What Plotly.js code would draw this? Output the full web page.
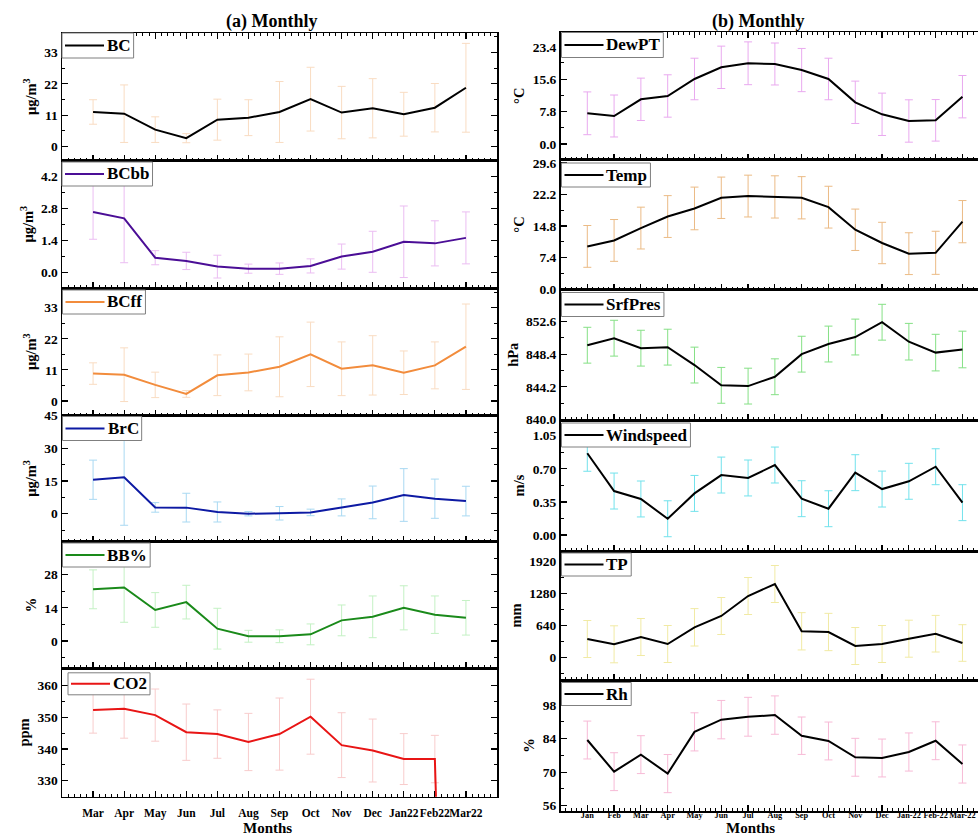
<!DOCTYPE html>
<html><head><meta charset="utf-8">
<script src="https://cdn.plot.ly/plotly-3.0.1.min.js"></script>
<style>html,body{margin:0;padding:0;background:#fff}#chart{width:978px;height:837px}</style>
</head><body><div id="chart"></div>
<script>
// ---- categories ----
const monthsA = ['Mar','Apr','May','Jun','Jul','Aug','Sep','Oct','Nov','Dec','Jan22','Feb22','Mar22'];
const monthsB = ['Jan','Feb','Mar','Apr','May','Jun','Jul','Aug','Sep','Oct','Nov','Dec','Jan-22','Feb-22','Mar-22'];

// ---- (a) series ----
const bc      = [12.1, 11.5, 5.9, 2.9, 9.4, 10.1, 12.1, 16.6, 11.9, 13.4, 11.3, 13.6, 20.6];
const bcErr   = [4.3, 10.1, 4.5, 1.6, 7.2, 6.3, 10.7, 11.2, 9.2, 10.4, 7.7, 8.5, 15.6];
const bcbb    = [2.65, 2.37, 0.64, 0.50, 0.25, 0.16, 0.16, 0.28, 0.69, 0.90, 1.34, 1.27, 1.51];
const bcbbErr = [1.2, 1.95, 0.31, 0.38, 0.5, 0.2, 0.25, 0.31, 0.55, 0.9, 1.57, 0.99, 1.14];
const bcff    = [9.7, 9.3, 5.7, 2.5, 9.1, 10.1, 12.1, 16.5, 11.4, 12.6, 10.0, 12.6, 19.2];
const bcffErr = [3.8, 9.5, 4.5, 1.2, 7.2, 6.5, 10.6, 11.4, 9.5, 10.5, 7.7, 8.3, 15.1];
const brc     = [15.6, 16.7, 2.9, 2.8, 0.8, 0.0, 0.2, 0.6, 2.9, 5.2, 8.6, 6.9, 5.8];
const brcErr  = [9.0, 22.0, 2.2, 6.6, 4.6, 1.0, 3.1, 1.5, 3.9, 7.5, 12.1, 9.0, 6.8];
const bbPct   = [21.8, 22.6, 13.1, 16.4, 5.2, 2.0, 2.0, 2.8, 8.7, 10.2, 14.0, 11.1, 9.8];
const bbErr   = [8.2, 14.7, 7.3, 7.1, 8.6, 2.5, 2.7, 4.4, 6.5, 8.8, 9.3, 7.9, 7.3];
const co2     = [352.3, 352.7, 350.7, 345.3, 344.7, 342.2, 344.7, 350.2, 341.2, 339.5, 336.8, 336.8, 0];
const co2Err  = [7.3, 9.3, 8.25, 8.9, 7.65, 9.05, 11.4, 11.85, 10.25, 9.95, 8.05, 7.5, 0];

// ---- (b) series ----
const dewpt   = [7.39, 6.74, 10.76, 11.56, 15.65, 18.46, 19.43, 19.26, 17.8, 15.65, 10.04, 7.15, 5.54, 5.7, 11.39];
const dewErr  = [5.15, 5.05, 5.1, 5.1, 5.0, 5.1, 5.15, 5.05, 5.2, 5.0, 5.1, 5.1, 5.1, 5.0, 5.1];
const temp    = [10.0, 11.4, 14.3, 17.0, 18.9, 21.4, 21.8, 21.6, 21.4, 19.2, 13.9, 10.8, 8.3, 8.5, 15.8];
const tempErr = [4.9, 4.9, 4.9, 4.9, 5.0, 4.85, 4.9, 4.95, 4.95, 4.9, 4.85, 4.85, 4.9, 5.05, 4.95];
const pres    = [849.55, 850.45, 849.17, 849.3, 847.0, 844.4, 844.3, 845.5, 848.4, 849.7, 850.6, 852.5, 850.0, 848.6, 849.0];
const presErr = [2.3, 2.3, 2.3, 2.3, 2.3, 2.3, 2.3, 2.3, 2.3, 2.3, 2.3, 2.3, 2.35, 2.35, 2.35];
const wind    = [0.864, 0.465, 0.381, 0.172, 0.44, 0.634, 0.603, 0.74, 0.384, 0.278, 0.659, 0.486, 0.568, 0.722, 0.342];
const windErr = [0.19, 0.19, 0.19, 0.19, 0.19, 0.19, 0.19, 0.19, 0.19, 0.19, 0.19, 0.19, 0.19, 0.19, 0.19];
const tp      = [374, 268, 414, 274, 608, 834, 1234, 1474, 528, 514, 234, 274, 380, 480, 294];
const tpErr   = [370, 370, 370, 370, 374, 370, 370, 370, 373, 373, 370, 370, 370, 366, 366];
const rh      = [83.4, 70.2, 77.3, 69.4, 86.8, 91.9, 93.1, 93.8, 85.2, 83.0, 76.2, 75.9, 78.4, 83.1, 73.4];
const rhErr   = [7.9, 7.9, 7.9, 7.95, 7.95, 8.0, 8.1, 8.0, 7.8, 7.9, 7.9, 7.9, 7.95, 7.9, 7.95];

// ---- styling / layout helpers ----
const W = 978, H = 837;
const FONT = 'Liberation Serif, Times New Roman, serif';
const LEG_SIZE = 17;
const colA = {x0: 62, x1: 497, range: [-1, 13], cats: monthsA, tickSize: 11.5, standoff: 5};
const colB = {x0: 560.5, x1: 978, range: [-1, 14.58], cats: monthsB, tickSize: 8.3, standoff: -4};

const panels = [
  {col: colA, name: 'BC',   y: bc,    e: bcErr,   lc: '#000000', ec: '#f9dcc2', top: 33,    bot: 160.5, range: [-4.94, 39.84], dtick: 11,  tick0: 0, fmt: '', title: 'μg/m<sup>3</sup>', leg: [0, 0, 25]},
  {col: colA, name: 'BCbb', y: bcbb,  e: bcbbErr, lc: '#4b0e96', ec: '#ebbdf2', top: 160.5, bot: 288,   range: [-0.689, 4.906], dtick: 1.4, tick0: 0, fmt: '.1f', title: 'μg/m<sup>3</sup>', leg: [0, 1.5, 24]},
  {col: colA, name: 'BCff', y: bcff,  e: bcffErr, lc: '#f28c3c', ec: '#f9dcc2', top: 288,   bot: 415.5, range: [-5.13, 39.97], dtick: 11,  tick0: 0, fmt: '', title: 'μg/m<sup>3</sup>', leg: [0.5, 2, 24]},
  {col: colA, name: 'BrC',  y: brc,   e: brcErr,  lc: '#0d1aa3', ec: '#a9d9f2', top: 415.5, bot: 541.5, range: [-12.75, 45.09], dtick: 15, tick0: 0, fmt: '', title: 'μg/m<sup>3</sup>', leg: [0.5, 1, 24]},
  {col: colA, name: 'BB%',  y: bbPct, e: bbErr,   lc: '#1a8a1a', ec: '#c4f1c4', top: 541.5, bot: 668.3, range: [-11.51, 41.97], dtick: 14, tick0: 0, fmt: '', title: '%', leg: [0.5, 1.5, 24]},
  {col: colA, name: 'CO2',  y: co2,   e: co2Err,  lc: '#e81515', ec: '#f8cccc', top: 668.3, bot: 796.7, range: [324.9, 365.5], dtick: 10, tick0: 330, fmt: '', title: 'ppm', leg: [6, 4.5, 22]},
  {col: colB, name: 'DewPT',     y: dewpt, e: dewErr,  lc: '#000000', ec: '#e9a9ef', top: 32,    bot: 159.5, range: [-3.73, 26.96], dtick: 7.8, tick0: 0, fmt: '.1f', title: '°C', leg: [1, 0.5, 25]},
  {col: colB, name: 'Temp',      y: temp,  e: tempErr, lc: '#000000', ec: '#ebbb85', top: 159.5, bot: 289.5, range: [-0.1, 30.37], dtick: 7.4, tick0: 0, fmt: '.1f', title: '°C', leg: [1, 3.5, 24]},
  {col: colB, name: 'SrfPres',   y: pres,  e: presErr, lc: '#000000', ec: '#85e085', top: 289.5, bot: 420,   range: [839.95, 856.7], dtick: 4.2, tick0: 840, fmt: '.1f', title: 'hPa', leg: [1, 3, 24]},
  {col: colB, name: 'Windspeed', y: wind,  e: windErr, lc: '#000000', ec: '#72e2ec', top: 420,   bot: 551,   range: [-0.169, 1.216], dtick: 0.35, tick0: 0, fmt: '.2f', title: 'm/s', leg: [1, 3, 24]},
  {col: colB, name: 'TP',        y: tp,    e: tpErr,   lc: '#000000', ec: '#f1eaa4', top: 551,   bot: 680,   range: [-446, 2134], dtick: 640, tick0: 0, fmt: '', title: 'mm', leg: [1, 2, 23]},
  {col: colB, name: 'Rh',        y: rh,    e: rhErr,   lc: '#000000', ec: '#f7bad6', top: 680,   bot: 811,   range: [53.8, 108.43], dtick: 14, tick0: 56, fmt: '', title: '%', leg: [1, 2.5, 23]}
];

// text measurement for the legend boxes
const ctx = document.createElement('canvas').getContext('2d');
ctx.font = 'bold ' + LEG_SIZE + 'px "Liberation Serif"';
const textW = (s) => ctx.measureText(s).width;

const traces = [];
const layout = {
  width: W, height: H,
  margin: {l: 0, r: 0, t: 0, b: 0},
  paper_bgcolor: '#fff', plot_bgcolor: '#fff',
  font: {family: FONT, color: '#000'},
  showlegend: false,
  annotations: [],
  shapes: [],
  hovermode: false
};

const tickFont = {family: FONT, size: 13.5, weight: 'bold', color: '#000'};
const px = (v) => v / W;
const py = (v) => 1 - v / H;

panels.forEach((p, i) => {
  const n = i + 1;
  const xk = n === 1 ? 'xaxis' : 'xaxis' + n;
  const yk = n === 1 ? 'yaxis' : 'yaxis' + n;
  const xr = n === 1 ? 'x' : 'x' + n;
  const yr = n === 1 ? 'y' : 'y' + n;
  const xs = p.col.cats.map((_, k) => k);
  const isTop = (i === 0 || i === 6);
  const isBottom = (i === 5 || i === 11);
  const isRight = p.col === colB;

  traces.push({
    type: 'scatter', mode: 'lines', name: p.name,
    x: xs, y: p.y, xaxis: xr, yaxis: yr,
    line: {color: p.lc, width: 2},
    error_y: {type: 'data', array: p.e, visible: true, color: p.ec, thickness: 1, width: 4}
  });

  layout[xk] = {
    domain: [px(p.col.x0), px(p.col.x1)],
    anchor: yr,
    range: p.col.range,
    tickmode: 'array', tickvals: xs, ticktext: p.col.cats,
    tickangle: 0,
    showticklabels: isBottom,
    ticklabelstandoff: p.col.standoff,
    tickfont: {family: FONT, size: p.col.tickSize, weight: 'bold', color: '#000'},
    ticks: 'inside', ticklen: 6, tickwidth: 1.2, tickcolor: '#000',
    minor: {dtick: 0.2, tick0: 0, ticks: 'inside', ticklen: 3, tickwidth: 1, tickcolor: '#000', showgrid: false},
    showline: true, linecolor: '#000', linewidth: 1.5,
    mirror: isTop ? 'allticks' : true,
    showgrid: false, zeroline: false, fixedrange: true
  };

  layout[yk] = {
    domain: [py(p.bot), py(p.top)],
    anchor: xr,
    range: p.range,
    tickmode: 'linear', dtick: p.dtick, tick0: p.tick0,
    tickformat: p.fmt,
    tickfont: tickFont,
    ticks: 'inside', ticklen: 6, tickwidth: 1.2, tickcolor: '#000',
    minor: {dtick: p.dtick / 2, tick0: p.tick0, ticks: 'inside', ticklen: 3, tickwidth: 1, tickcolor: '#000', showgrid: false},
    showline: true, linecolor: '#000', linewidth: 1.5,
    mirror: isRight ? false : 'allticks',
    showgrid: false, zeroline: false, fixedrange: true,
    title: {text: p.title, font: {family: FONT, size: 14.5, weight: 'bold', color: '#000'}, standoff: 4}
  };

  // legend box (per panel, as in the reference)
  const bx0 = p.col.x0 + p.leg[0];
  const by0 = p.top + p.leg[1];
  const bh = p.leg[2];
  const bw = 48 + textW(p.name);
  const cy = by0 + bh / 2;
  layout.shapes.push(
    {type: 'rect', xref: 'paper', yref: 'paper', x0: px(bx0), x1: px(bx0 + bw), y0: py(by0 + bh), y1: py(by0),
     fillcolor: '#ffffff', line: {color: '#7f7f7f', width: 1}, layer: 'above'},
    {type: 'line', xref: 'paper', yref: 'paper', x0: px(bx0 + 3), x1: px(bx0 + 42), y0: py(cy), y1: py(cy),
     line: {color: p.lc, width: 2}, layer: 'above'}
  );
  layout.annotations.push({
    text: p.name, xref: 'paper', yref: 'paper', x: px(bx0 + bw - 2), y: py(cy),
    xanchor: 'right', yanchor: 'middle', showarrow: false, borderpad: 0,
    font: {family: FONT, size: LEG_SIZE, weight: 'bold', color: '#000'}
  });
});

const annFont = (s) => ({family: FONT, size: s, weight: 'bold', color: '#000'});
layout.annotations.push(
  {text: '(a) Monthly', x: px(272), y: py(21), xref: 'paper', yref: 'paper', showarrow: false, xanchor: 'center', yanchor: 'middle', font: annFont(18)},
  {text: '(b) Monthly', x: px(758), y: py(21), xref: 'paper', yref: 'paper', showarrow: false, xanchor: 'center', yanchor: 'middle', font: annFont(18)},
  {text: 'Months', x: px(267), y: 0, xref: 'paper', yref: 'paper', showarrow: false, xanchor: 'center', yanchor: 'bottom', borderpad: 0, font: annFont(15)},
  {text: 'Months', x: px(750), y: 0, xref: 'paper', yref: 'paper', showarrow: false, xanchor: 'center', yanchor: 'bottom', borderpad: 0, font: annFont(15)}
);

Plotly.newPlot('chart', traces, layout, {staticPlot: true, displayModeBar: false});
</script>
</body></html>
